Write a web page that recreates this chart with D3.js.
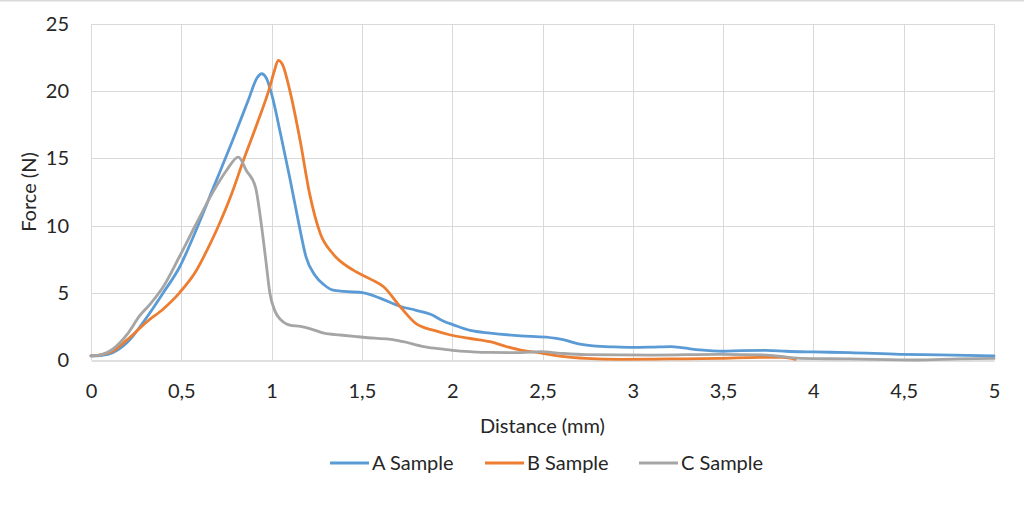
<!DOCTYPE html>
<html>
<head>
<meta charset="utf-8">
<script src="https://cdn.jsdelivr.net/npm/d3@7"></script>
<style>
  html, body { margin: 0; padding: 0; background: #fff; }
  svg { display: block; font-family: Lato, "Open Sans", sans-serif; }
</style>
</head>
<body>
<svg id="chart" width="1024" height="512"></svg>
<script>
const seriesNames = ["A Sample", "B Sample", "C Sample"];
const seriesColors = ["#5B9BD5", "#ED7D31", "#A5A5A5"];

const aX = [0,0.06,0.12,0.2,0.31,0.4,0.49,0.58,0.68,0.78,0.87,0.92,0.945,0.97,1.0,1.05,1.10,1.15,1.19,1.24,1.29,1.34,1.40,1.51,1.60,1.71,1.80,1.88,1.95,2.01,2.1,2.21,2.38,2.52,2.62,2.70,2.78,2.9,3.0,3.1,3.21,3.28,3.37,3.5,3.6,3.74,3.85,4.0,4.2,4.48,4.7,5.0];
const aY = [0.3,0.35,0.55,1.3,3.2,5.0,6.9,9.6,12.9,16.2,19.3,21.0,21.3,21.0,19.8,16.8,13.6,10.2,7.7,6.3,5.6,5.2,5.1,5.0,4.6,4.0,3.7,3.4,2.9,2.6,2.2,2.0,1.8,1.7,1.5,1.2,1.05,0.97,0.94,0.96,1.0,0.9,0.75,0.65,0.7,0.72,0.65,0.6,0.55,0.42,0.38,0.3];

const bX = [0,0.06,0.12,0.2,0.31,0.40,0.49,0.585,0.64,0.70,0.78,0.845,0.92,0.99,1.015,1.037,1.06,1.10,1.157,1.21,1.27,1.34,1.45,1.55,1.62,1.71,1.80,1.9,1.99,2.1,2.21,2.3,2.38,2.5,2.62,2.74,2.93,3.2,3.48,3.7,3.83,3.9];
const bY = [0.3,0.4,0.65,1.5,2.85,3.8,5.0,6.7,8.1,9.8,12.4,14.9,17.6,20.3,21.5,22.3,22.0,20.1,16.4,12.4,9.4,7.9,6.7,6.0,5.45,4.0,2.7,2.2,1.86,1.6,1.36,1.0,0.74,0.5,0.25,0.12,0.05,0.08,0.12,0.2,0.2,0.05];

const cX = [0,0.06,0.12,0.2,0.27,0.33,0.40,0.49,0.585,0.68,0.75,0.816,0.86,0.91,0.945,0.97,0.99,1.02,1.05,1.10,1.16,1.22,1.29,1.38,1.47,1.57,1.66,1.73,1.84,1.92,2.0,2.1,2.2,2.38,2.49,2.6,2.74,3.11,3.48,3.74,3.93,4.2,4.57,4.8,5.0];
const cY = [0.3,0.4,0.8,1.9,3.3,4.2,5.45,7.7,10.2,12.6,14.1,15.1,14.1,12.9,9.9,7.2,5.0,3.6,3.0,2.6,2.5,2.3,2.0,1.86,1.74,1.62,1.54,1.36,1.0,0.85,0.72,0.62,0.56,0.55,0.62,0.5,0.4,0.37,0.42,0.37,0.12,0.08,0.0,0.08,0.12];

const xTicks = [0,0.5,1,1.5,2,2.5,3,3.5,4,4.5,5];
const yTicks = [0,5,10,15,20,25];
const xTitle = "Distance (mm)";
const yTitle = "Force (N)";

const svg = d3.select("#chart");
const W = 1024, H = 512;
const FS = 20;
const m = {left: 91, right: 30, top: 24, bottom: 152};
const x = d3.scaleLinear().domain([0,5]).range([m.left, W - m.right]);
const y = d3.scaleLinear().domain([0,25]).range([H - m.bottom, m.top]);

// top frame line
svg.append("line").attr("x1",0).attr("x2",W).attr("y1",0.5).attr("y2",0.5)
  .attr("stroke","#d9d9d9").attr("stroke-width",2);

// gridlines
svg.append("g").selectAll("line").data(yTicks.filter(d=>d>0)).join("line")
  .attr("x1", x(0)).attr("x2", x(5))
  .attr("y1", d=>Math.round(y(d))+0.5).attr("y2", d=>Math.round(y(d))+0.5)
  .attr("stroke","#d9d9d9").attr("stroke-width",1);
svg.append("g").selectAll("line").data(xTicks).join("line")
  .attr("y1", y(0)).attr("y2", y(25))
  .attr("x1", d=>Math.round(x(d))+0.5).attr("x2", d=>Math.round(x(d))+0.5)
  .attr("stroke","#d9d9d9").attr("stroke-width",1);

const fmt = d => String(d).replace(".", ",");

const xAxis = svg.append("g")
  .attr("transform", `translate(0,${Math.round(y(0))+0.5})`)
  .call(d3.axisBottom(x).tickValues(xTicks).tickFormat(fmt).tickSize(0).tickPadding(23));
xAxis.select(".domain").attr("stroke","#bfbfbf");
xAxis.selectAll("text").attr("font-size",FS).attr("fill","#262626").attr("font-family","Lato");

const yAxis = svg.append("g")
  .attr("transform", `translate(${x(0)},0)`)
  .call(d3.axisLeft(y).tickValues(yTicks).tickSize(0).tickPadding(22));
yAxis.select(".domain").remove();
yAxis.selectAll("text").attr("font-size",FS).attr("fill","#262626").attr("font-family","Lato");

// titles
svg.append("text").attr("x", (x(0)+x(5))/2).attr("y", 433)
  .attr("text-anchor","middle").attr("font-size",FS).attr("fill","#262626").text(xTitle);
svg.append("text").attr("transform", `translate(36,${(y(0)+y(25))/2}) rotate(-90)`)
  .attr("text-anchor","middle").attr("font-size",FS).attr("fill","#262626").text(yTitle);

// lines
const data = [[aX,aY],[bX,bY],[cX,cY]].map(([xs,ys]) => xs.map((v,i)=>[v, ys[i]]));
const line = d3.line().x(d=>x(d[0])).y(d=>y(d[1])).curve(d3.curveMonotoneX);
svg.append("g").selectAll("path").data(data).join("path")
  .attr("d", line).attr("fill","none")
  .attr("stroke", (d,i)=>seriesColors[i]).attr("stroke-width",2.8)
  .attr("stroke-linejoin","round").attr("stroke-linecap","round");

// legend
const legendX = [330, 485, 639];
const lg = svg.append("g").selectAll("g").data(seriesNames).join("g")
  .attr("transform", (d,i)=>`translate(${legendX[i]},463)`);
lg.append("line").attr("x1",0).attr("x2",39).attr("y1",0).attr("y2",0)
  .attr("stroke",(d,i)=>seriesColors[i]).attr("stroke-width",2.8);
lg.append("text").attr("x",42).attr("y",7).attr("font-size",FS).attr("fill","#262626").text(d=>d);
</script>
</body>
</html>
